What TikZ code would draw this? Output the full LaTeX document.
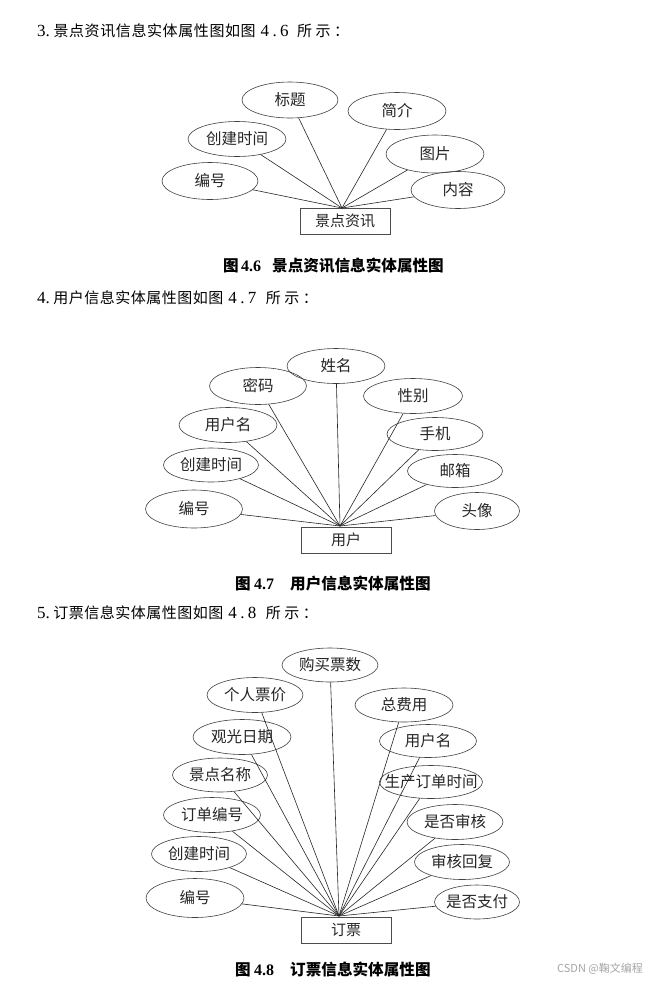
\documentclass[tikz,border=0pt]{standalone}
\usepackage{fontspec}
\setmainfont{Liberation Serif}
\newfontfamily\cjk{Noto Sans CJK SC}
\usetikzlibrary{shapes.geometric}
\makeatletter
\newcommand\gridtext[2]{\@tfor\gt@c:=#2\do{\makebox[#1]{\gt@c}}}
\makeatother
\newcommand\att[6]{\node[attr, minimum width=#4pt, minimum height=#5pt, label={center:#6}] (#1) at (#2,#3) {};}
\newcommand\hcjk{\cjk\fontsize{15}{16}\selectfont}
\newcommand\ccjk{\cjk\bfseries\fontsize{15.6}{16}\selectfont}
\begin{document}
\begin{tikzpicture}[x=1pt,y=-1pt,
 attr/.style={draw=black!75, line width=0.6pt, ellipse, inner sep=0pt},
 ent/.style={draw=black!70, line width=0.9pt, rectangle, minimum width=90pt, minimum height=26pt, inner sep=0pt, font=\cjk\fontsize{15}{15}\selectfont, text=black!85},
 conn/.style={black!85, line width=0.6pt},
 every label/.style={font=\cjk\fontsize{15.5}{15}\selectfont, inner sep=0pt, text=black!85},
 headtxt/.style={anchor=west, inner sep=0pt, font=\fontsize{17}{18}\selectfont},
 captxt/.style={anchor=west, inner sep=0pt, font=\bfseries\fontsize{16}{16}\selectfont}]
\useasboundingbox (0,0) rectangle (655,983);
\fill[white] (0,0) rectangle (655,983);

% ---------- heading 1 ----------
\node[headtxt] (h1) at (37,31) {\makebox[16pt][l]{3.}{\hcjk\gridtext{15.6pt}{景点资讯信息实体属性图如图}}\hspace{4pt}\gridtext{9.8pt}{4.6}\hspace{6pt}{\hcjk\gridtext{18.5pt}{所示：}}};

% ---------- diagram 1 ----------
\node[ent] (E1) at (345,221) {景点资讯};
\coordinate (H1) at (342,208);
\att{a1}{290}{100}{96}{36}{标题}
\att{a2}{397}{111}{98}{37}{简介}
\att{a3}{237}{139}{98}{35}{创建时间}
\att{a4}{435}{154}{98}{38}{图片}
\att{a5}{210}{181}{96}{37}{编号}
\att{a6}{458}{190}{94}{37}{内容}
\foreach \n in {a1,a2,a3,a4,a5,a6} \draw[conn] (H1) -- (\n);

\node[captxt] (c1) at (223,266) {\makebox[18pt][l]{\ccjk 图}\makebox[31pt][l]{4.6}{\ccjk 景点资讯信息实体属性图}};

% ---------- heading 2 ----------
\node[headtxt] (h2) at (37,298) {\makebox[16pt][l]{4.}{\hcjk\gridtext{15.5pt}{用户信息实体属性图如图}}\hspace{4pt}\gridtext{9.8pt}{4.7}\hspace{7pt}{\hcjk\gridtext{18.5pt}{所示：}}};

% ---------- diagram 2 ----------
\node[ent] (E2) at (346,540) {用户};
\coordinate (H2) at (340,526);
\att{b1}{336}{366}{98}{35}{姓名}
\att{b2}{258}{386}{97}{37}{密码}
\att{b3}{413}{396}{99}{35}{性别}
\att{b4}{228}{425}{98}{35}{用户名}
\att{b5}{435}{434}{96}{33}{手机}
\att{b6}{211}{465}{95}{34}{创建时间}
\att{b7}{455}{471}{95}{33}{邮箱}
\att{b8}{194}{509}{97}{38}{编号}
\att{b9}{477}{511}{85}{37}{头像}
\foreach \n in {b1,b2,b3,b4,b5,b6,b7,b8,b9} \draw[conn] (H2) -- (\n);

\node[captxt] (c2) at (235,584) {\makebox[19pt][l]{\ccjk 图}\makebox[36pt][l]{4.7}{\ccjk 用户信息实体属性图}};

% ---------- heading 3 ----------
\node[headtxt] (h3) at (37,613) {\makebox[16pt][l]{5.}{\hcjk\gridtext{15.5pt}{订票信息实体属性图如图}}\hspace{4pt}\gridtext{9.8pt}{4.8}\hspace{7pt}{\hcjk\gridtext{18.5pt}{所示：}}};

% ---------- diagram 3 ----------
\node[ent] (E3) at (346,930) {订票};
\coordinate (H3) at (339,916);
\att{d1}{330}{665}{96}{34}{购买票数}
\att{d2}{255}{695}{96}{35}{个人票价}
\att{d3}{404}{705}{98}{34}{总费用}
\att{d4}{242}{737}{98}{35}{观光日期}
\att{d5}{428}{741}{97}{33}{用户名}
\att{d6}{220}{775}{95}{34}{景点名称}
\att{d7}{431}{782}{103}{33}{生产订单时间}
\att{d8}{212}{815}{97}{35}{订单编号}
\att{d9}{455}{822}{96}{35}{是否审核}
\att{d10}{199}{854}{95}{35}{创建时间}
\att{d11}{462}{862}{95}{35}{审核回复}
\att{d12}{195}{898}{98}{39}{编号}
\att{d13}{477}{902}{85}{34}{是否支付}
\foreach \n in {d1,d2,d3,d4,d5,d6,d7,d8,d9,d10,d11,d12,d13} \draw[conn] (H3) -- (\n);

\node[captxt] (c3) at (235,969) {\makebox[19pt][l]{\ccjk 图}\makebox[36pt][l]{4.8}{\ccjk 订票信息实体属性图}};
\node[inner sep=0pt, font=\cjk\fontsize{11}{11}\selectfont, text=black!35] (wm) at (600,969) {CSDN @鞠文编程};
\end{tikzpicture}
\end{document}
